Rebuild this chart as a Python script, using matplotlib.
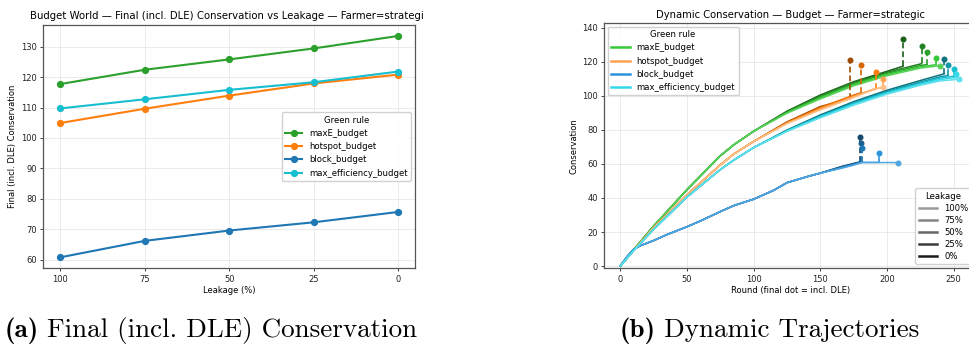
import colorsys
import numpy as np
import matplotlib
matplotlib.use("Agg")
import matplotlib.pyplot as plt
from matplotlib.lines import Line2D
from matplotlib import colors as mcolors
from matplotlib.transforms import Bbox, TransformedBbox

# ---------------------------------------------------------------- data
leakage_pct = [100, 75, 50, 25, 0]
leakage_labels = ["100%", "75%", "50%", "25%", "0%"]
rules = ["maxE_budget", "hotspot_budget", "block_budget", "max_efficiency_budget"]
rule_colors = ["#2ca02c", "#ff7f0e", "#1f77b4", "#17becf"]

# final conservation (incl. DLE), ordered by leakage 100 -> 0
final_maxE = [117.7, 122.4, 125.8, 129.4, 133.5]
final_hotspot = [104.9, 109.6, 113.9, 117.9, 120.8]
final_block = [60.8, 66.2, 69.6, 72.3, 75.7]
final_maxeff = [109.7, 112.7, 115.8, 118.3, 121.8]

# trajectories: rows ordered by leakage 100, 75, 50, 25, 0
nan = np.nan
maxE_rounds = [0, 10, 25, 50, 75, 85, 100, 125, 150, 175, 200, 225]
maxE_traj = [
    [0, 9.6, 23.5, 44.9, 64.8, 71.2, 79.2, 89.8, 98.2, 105.9, 111.8, 116.3],
    [0, 9.6, 23.5, 44.9, 64.8, 71.2, 79.2, 90.1, 98.8, 106.5, 112.5, 117.0],
    [0, 9.6, 23.5, 44.9, 64.8, 71.2, 79.2, 90.4, 99.4, 107.2, 113.2, 117.8],
    [0, 9.6, 23.5, 44.9, 64.8, 71.2, 79.2, 90.7, 100.0, 107.8, 113.8, 118.7],
    [0, 9.6, 23.5, 44.9, 64.8, 71.2, 79.2, 91.0, 100.5, 108.3, 114.4, nan],
]
maxE_end_round = [240, 237, 230, 226, 212]
maxE_end_value = [117.7, 118.3, 118.4, 119.0, 117.4]

hotspot_rounds = [0, 10, 25, 50, 75, 85, 100, 125, 150, 175, 191]
hotspot_traj = [
    [0, 9.3, 22.5, 41.9, 59.4, 65.8, 73.2, 83.6, 91.7, 99.0, 104.0],
    [0, 9.3, 22.5, 41.9, 59.4, 65.8, 73.2, 83.9, 92.2, 99.5, 104.3],
    [0, 9.3, 22.5, 41.9, 59.4, 65.8, 73.2, 84.1, 92.8, 100.0, nan],
    [0, 9.3, 22.5, 41.9, 59.4, 65.8, 73.2, 84.4, 93.2, 100.4, nan],
    [0, 9.3, 22.5, 41.9, 59.4, 65.8, 73.2, 84.7, 93.7, nan, nan],
]
hotspot_end_round = [197, 197, 191.5, 180.5, 172]
hotspot_end_value = [104.9, 104.7, 104.0, 101.8, 98.2]

block_rounds = [0, 5, 10, 15, 25, 35, 50, 60, 75, 85, 100, 115, 125, 140, 150, 165, 175, 181]
block_traj = [
    [0, 5.5, 9.8, 12.0, 15.0, 18.5, 23.1, 26.5, 32.0, 35.5, 39.3, 44.5, 49.0, 52.5, 54.6, 57.3, 59.3, 60.8],
    [0, 5.5, 9.8, 12.0, 15.0, 18.5, 23.1, 26.5, 32.0, 35.5, 39.3, 44.5, 49.0, 52.5, 54.6, 57.5, 59.5, 60.9],
    [0, 5.5, 9.8, 12.0, 15.0, 18.5, 23.1, 26.5, 32.0, 35.5, 39.3, 44.5, 49.0, 52.5, 54.6, 57.8, 59.8, 61.0],
    [0, 5.5, 9.8, 12.0, 15.0, 18.5, 23.1, 26.5, 32.0, 35.5, 39.3, 44.5, 49.0, 52.5, 54.6, 58.1, 60.1, nan],
    [0, 5.5, 9.8, 12.0, 15.0, 18.5, 23.1, 26.5, 32.0, 35.5, 39.3, 44.5, 49.0, 52.5, 54.6, 58.3, 60.3, nan],
]
block_end_round = [208.5, 194, 181.5, 180.5, 179.5]
block_end_value = [60.8, 60.9, 61.0, 61.1, 61.2]

maxeff_rounds = [0, 10, 25, 50, 75, 85, 100, 125, 150, 175, 200, 225, 240]
maxeff_traj = [
    [0, 9.1, 21.6, 40.6, 56.7, 62.2, 69.6, 79.1, 87.1, 94.5, 101.0, 106.2, 108.8],
    [0, 9.1, 21.6, 40.6, 56.7, 62.2, 69.6, 79.3, 87.5, 95.0, 101.5, 106.8, 109.6],
    [0, 9.1, 21.6, 40.6, 56.7, 62.2, 69.6, 79.5, 87.9, 95.5, 102.0, 107.4, 110.4],
    [0, 9.1, 21.6, 40.6, 56.7, 62.2, 69.6, 79.7, 88.3, 96.0, 102.6, 108.1, 111.2],
    [0, 9.1, 21.6, 40.6, 56.7, 62.2, 69.6, 79.9, 88.8, 96.6, 103.3, 109.0, 112.3],
]
maxeff_end_round = [254, 252, 250, 246, 243]
maxeff_end_value = [109.7, 110.8, 111.5, 112.0, 113.0]

finals = [final_maxE, final_hotspot, final_block, final_maxeff]
traj_rounds = [maxE_rounds, hotspot_rounds, block_rounds, maxeff_rounds]
trajs = [maxE_traj, hotspot_traj, block_traj, maxeff_traj]
end_rounds = [maxE_end_round, hotspot_end_round, block_end_round, maxeff_end_round]
end_values = [maxE_end_value, hotspot_end_value, block_end_value, maxeff_end_value]


# ---------------------------------------------------------------- helpers
def adjust_lightness(color, amount):
    r, g, b = mcolors.to_rgb(color)
    h, l, s = colorsys.rgb_to_hls(r, g, b)
    l = max(0.0, min(1.0, l * amount))
    return colorsys.hls_to_rgb(h, l, s)


shade_amounts = [1.45, 1.25, 1.0, 0.8, 0.6]   # leakage 100 -> 0
leak_grays = ["#9a9a9a", "#858585", "#666666", "#3a3a3a", "#1a1a1a"]

W, H = 969, 349
fig = plt.figure(figsize=(W / 100, H / 100), dpi=100)

FS_TICK = 6.0
FS_LABEL = 6.0
FS_LEG = 6.1
SPINE = "#555555"


def style_axes(ax):
    ax.grid(True, color="#dddddd", linewidth=0.6, alpha=0.7)
    ax.set_axisbelow(True)
    ax.tick_params(labelsize=FS_TICK, length=2.5, width=0.6, pad=2,
                   colors="#222222")
    for sp in ax.spines.values():
        sp.set_color(SPINE)
        sp.set_linewidth(0.9)


# ---------------------------------------------------------------- (a)
ax1 = fig.add_axes([43.3 / W, 1 - 268.3 / H, (415 - 43.3) / W, (268.3 - 25) / H])
style_axes(ax1)
xpos = np.arange(len(leakage_pct))
for name, col, vals in zip(rules, rule_colors, finals):
    ax1.plot(xpos, vals, "-o", color=col, lw=1.5, ms=4.2, label=name)
ax1.set_xticks(xpos)
ax1.set_xticklabels([str(p) for p in leakage_pct])
ax1.set_xlim(-0.2, 4.2)
ax1.set_yticks([60, 70, 80, 90, 100, 110, 120, 130])
ax1.set_ylim(57.2, 137.1)
ax1.set_xlabel("Leakage (%)", fontsize=FS_LABEL, labelpad=2)
ax1.set_ylabel("Final (incl. DLE) Conservation", fontsize=FS_LABEL, labelpad=3)
t1 = ax1.set_title("Budget World \u2014 Final (incl. DLE) Conservation vs Leakage \u2014 Farmer=strategic",
                   fontsize=7.3, pad=4)
t1.set_clip_box(TransformedBbox(Bbox([[0, 0], [424 / W, 1]]), fig.transFigure))
t1.set_clip_on(True)
ax1.legend(title="Green rule", loc="center right", fontsize=FS_LEG,
           title_fontsize=FS_LEG, borderaxespad=0.5, handlelength=2.0,
           framealpha=0.9, edgecolor="#cccccc")

# ---------------------------------------------------------------- (b)
AX2_RIGHT = 976
ax2 = fig.add_axes([604.3 / W, 1 - 268.3 / H, (AX2_RIGHT - 604.3) / W, (268.3 - 23.3) / H])
style_axes(ax2)
for ri, col in enumerate(rule_colors):
    # darkest (0% leakage) first so the lighter runs sit on top
    for li in reversed(range(len(leakage_pct))):
        c = adjust_lightness(col, shade_amounts[li])
        xr = np.array(list(traj_rounds[ri]) + [end_rounds[ri][li]], float)
        yv = np.array(list(trajs[ri][li]) + [end_values[ri][li]], float)
        ok = ~np.isnan(yv)
        ax2.plot(xr[ok], yv[ok], color=c, lw=1.1)
        ex, ey, fv = end_rounds[ri][li], end_values[ri][li], finals[ri][li]
        ax2.plot([ex, ex], [ey, fv], color=c, lw=1.2, ls=(0, (3.5, 1.8)))
        ax2.plot([ex], [fv], "o", color=c, ms=3.3)

ax2.set_xlim(-12, 266.7)
ax2.set_ylim(-1.3, 142.6)
ax2.set_xticks([0, 50, 100, 150, 200, 250])
ax2.set_yticks([0, 20, 40, 60, 80, 100, 120, 140])
ax2.set_xlabel("Round (final dot = incl. DLE)", fontsize=FS_LABEL, labelpad=2)
ax2.set_ylabel("Conservation", fontsize=FS_LABEL, labelpad=3)
ax2.set_title("Dynamic Conservation \u2014 Budget \u2014 Farmer=strategic",
              fontsize=7.2, pad=4)

rule_handles = [Line2D([], [], color=adjust_lightness(c, 1.25), lw=1.8) for c in rule_colors]
leg2 = ax2.legend(rule_handles, rules, title="Green rule", loc="upper left",
                  fontsize=FS_LEG, title_fontsize=FS_LEG, borderaxespad=0.4,
                  handlelength=2.2, framealpha=0.9, edgecolor="#cccccc")
ax2.add_artist(leg2)
leak_handles = [Line2D([], [], color=g, lw=1.8) for g in leak_grays]
ax2.legend(leak_handles, leakage_labels, title="Leakage", loc="lower right",
           fontsize=FS_LEG, title_fontsize=FS_LEG, borderaxespad=0.5,
           handlelength=2.2, labelspacing=0.35, framealpha=0.9,
           edgecolor="#cccccc")

# ---------------------------------------------------------------- captions
fig.canvas.draw()
renderer = fig.canvas.get_renderer()
CAP_FS = 19.5


def caption(x_px, tag, text):
    base_y = 1 - 337 / H
    t = fig.text(x_px / W, base_y, tag, fontsize=CAP_FS, family="cmb10", va="baseline")
    bb = t.get_window_extent(renderer)
    fig.text((bb.x1 + 8) / W, base_y, text, fontsize=CAP_FS, family="cmr10", va="baseline")


caption(5, "(a)", "Final (incl. DLE) Conservation")
caption(620, "(b)", "Dynamic Trajectories")

fig.savefig("out.png", dpi=100)
